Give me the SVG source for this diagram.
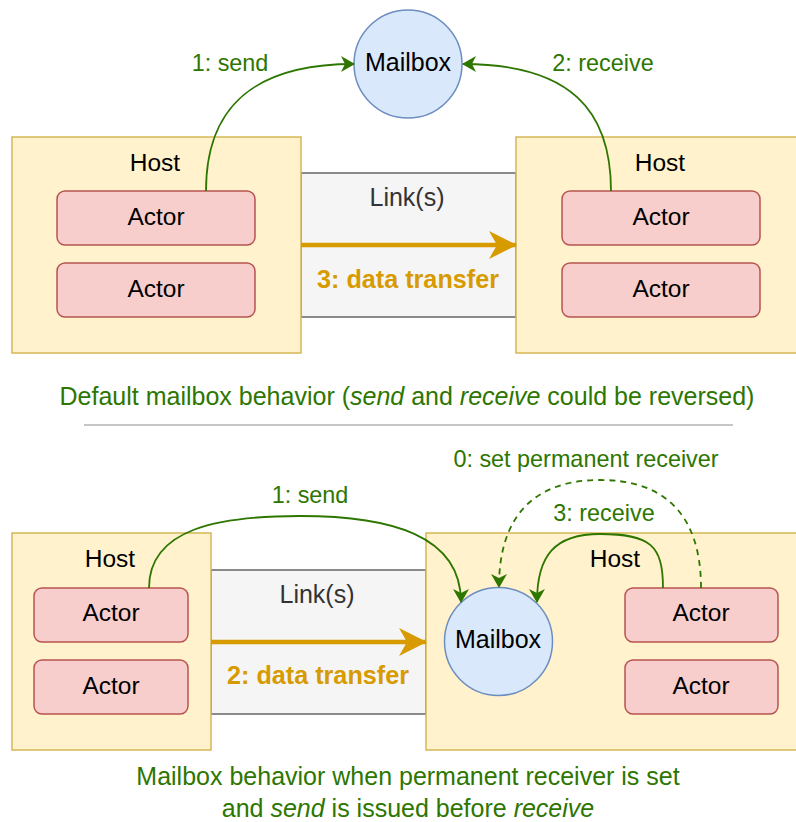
<svg xmlns="http://www.w3.org/2000/svg" width="796" height="822" viewBox="0 0 796 822">
<style>
text{font-family:"Liberation Sans",Arial,sans-serif;text-anchor:middle}
.host{fill:#fff2cc;stroke:#d6b656;stroke-width:1.5}
.actor{fill:#f8cecc;stroke:#b85450;stroke-width:1.5}
.mbox{fill:#dae8fc;stroke:#6c8ebf;stroke-width:1.5}
.link{fill:#f5f5f5;stroke:#666666;stroke-width:1.5}
.t{font-size:24.5px;fill:#000}
.mb{font-size:25px;fill:#000}
.lbl{font-size:23.4px;fill:#2d7600}
.cap{font-size:25px;fill:#2d7600}
.lt{font-size:25px;fill:#333333}
.dt{font-size:25.2px;font-weight:bold;fill:#d79b00}
.g{fill:none;stroke:#2d7600;stroke-width:1.8}
.o{fill:none;stroke:#d79b00;stroke-width:4.5}
</style>
<defs>
<marker id="ag" markerUnits="userSpaceOnUse" markerWidth="14" markerHeight="16" viewBox="0 0 14 16" refX="13" refY="8" orient="auto">
<path d="M0,0 L14,8 L0,16 L4,8 z" fill="#2d7600"/>
</marker>
<marker id="ao" markerUnits="userSpaceOnUse" markerWidth="28" markerHeight="28" viewBox="0 0 28 28" refX="27" refY="14" orient="auto">
<path d="M0,0 L28,14 L0,28 L8,14 z" fill="#d79b00"/>
</marker>
</defs>

<!-- top section -->
<g id="link-top"><rect class="link" x="301" y="173" width="215" height="144"/><text class="lt" x="407" y="206">Link(s)</text></g>
<g id="host-top-left"><rect class="host" x="12" y="137" width="289" height="216"/><text class="t" x="155" y="170.5">Host</text></g>
<g id="actor-tl1"><rect class="actor" x="57" y="191" width="198" height="54" rx="8"/><text class="t" x="156" y="224.5">Actor</text></g>
<g id="actor-tl2"><rect class="actor" x="57" y="263" width="198" height="54" rx="8"/><text class="t" x="156" y="296.5">Actor</text></g>
<g id="host-top-right"><rect class="host" x="516" y="137" width="300" height="216"/><text class="t" x="660" y="170.5">Host</text></g>
<g id="actor-tr1"><rect class="actor" x="562" y="191" width="198" height="54" rx="8"/><text class="t" x="661" y="224.5">Actor</text></g>
<g id="actor-tr2"><rect class="actor" x="562" y="263" width="198" height="54" rx="8"/><text class="t" x="661" y="296.5">Actor</text></g>
<g id="mailbox-top"><circle class="mbox" cx="408" cy="64" r="54"/><text class="mb" x="408" y="71">Mailbox</text></g>

<!-- bottom section -->
<g id="link-bottom"><rect class="link" x="211" y="570" width="215" height="144"/><text class="lt" x="317" y="603">Link(s)</text></g>
<g id="host-bottom-left"><rect class="host" x="12" y="533" width="199" height="217"/><text class="t" x="110" y="566.5">Host</text></g>
<g id="actor-bl1"><rect class="actor" x="34" y="588" width="154" height="54" rx="8"/><text class="t" x="111" y="621">Actor</text></g>
<g id="actor-bl2"><rect class="actor" x="34" y="660" width="154" height="54" rx="8"/><text class="t" x="111" y="693.5">Actor</text></g>
<g id="host-bottom-right"><rect class="host" x="426" y="533" width="390" height="217"/><text class="t" x="615" y="566.5">Host</text></g>
<g id="actor-br1"><rect class="actor" x="625" y="588" width="153" height="54" rx="8"/><text class="t" x="701" y="621">Actor</text></g>
<g id="actor-br2"><rect class="actor" x="625" y="660" width="153" height="54" rx="8"/><text class="t" x="701" y="693.5">Actor</text></g>
<g id="mailbox-bottom"><circle class="mbox" cx="498.5" cy="641.5" r="54"/><text class="mb" x="498" y="647.5">Mailbox</text></g>

<g id="connectors">
<path class="g" d="M206,191 C206,110 250,64 354,64" marker-end="url(#ag)"/>
<path class="g" d="M611,191 C611,110 570,64 463,64" marker-end="url(#ag)"/>
<path class="o" d="M301,245 L516,245" marker-end="url(#ao)"/>
<path class="g" d="M149,588 C149,528 220,516 300,516 C390,516 461,535 461,602" marker-end="url(#ag)"/>
<path class="g" d="M663,588 C663,545 650,534 600,534 C555,534 537,555 537,602" marker-end="url(#ag)"/>
<path class="g" stroke-dasharray="6,5" d="M701,588 C701,510 660,480 600,480 C535,480 499,515 499,587" marker-end="url(#ag)"/>
<path class="o" d="M211,642 L426,642" marker-end="url(#ao)"/>
</g>

<g id="labels">
<text class="lbl" x="230" y="70.5">1: send</text>
<text class="lbl" x="603" y="70.5">2: receive</text>
<text class="dt" x="408" y="287.5">3: data transfer</text>
<text class="cap" x="407" y="405">Default mailbox behavior (<tspan font-style="italic">send</tspan> and <tspan font-style="italic">receive</tspan> could be reversed)</text>
<line x1="84" y1="425" x2="733" y2="425" stroke="#b3b3b3" stroke-width="1.5"/>
<text class="lbl" x="310" y="503">1: send</text>
<text class="lbl" x="586" y="466.5">0: set permanent receiver</text>
<text class="lbl" x="604" y="520.5">3: receive</text>
<text class="dt" x="318" y="684">2: data transfer</text>
<text class="cap" x="408" y="785">Mailbox behavior when permanent receiver is set</text>
<text class="cap" x="408" y="817">and <tspan font-style="italic">send</tspan> is issued before <tspan font-style="italic">receive</tspan></text>
</g>
</svg>
